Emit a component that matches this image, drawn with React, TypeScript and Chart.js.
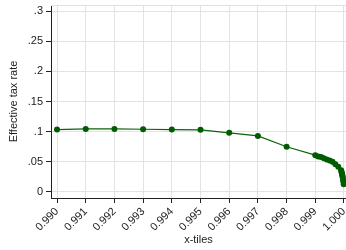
import React, { useEffect, useRef } from "react";
import { Chart, registerables } from "chart.js";

Chart.register(...registerables);

const xValues = [
  0.990, 0.991, 0.992, 0.993, 0.994, 0.995, 0.996, 0.997, 0.998,
  0.9990, 0.9991, 0.9992, 0.9993, 0.9994, 0.9995, 0.9996, 0.9997, 0.9998, 0.9999,
  0.99991, 0.99992, 0.99993, 0.99994, 0.99995, 0.99996, 0.99997, 0.99998, 0.99999,
];
const taxRates = [
  0.1035, 0.1045, 0.1045, 0.104, 0.1035, 0.103, 0.098, 0.093, 0.075,
  0.061, 0.059, 0.058, 0.056, 0.054, 0.052, 0.05, 0.046, 0.042, 0.036,
  0.034, 0.032, 0.03, 0.028, 0.026, 0.023, 0.02, 0.017, 0.013,
];
const xTickValues = [0.990, 0.991, 0.992, 0.993, 0.994, 0.995, 0.996, 0.997, 0.998, 0.999, 1.000];
const xTickLabels = ["0.990", "0.991", "0.992", "0.993", "0.994", "0.995", "0.996", "0.997", "0.998", "0.999", "1.000"];
const yTickValues = [0, 0.05, 0.1, 0.15, 0.2, 0.25, 0.3];
const yTickLabels = ["0", ".05", ".1", ".15", ".2", ".25", ".3"];

const FONT = "'Liberation Sans', Arial, sans-serif";

export default function App() {
  const ref = useRef<HTMLCanvasElement | null>(null);

  useEffect(() => {
    if (!ref.current) return;
    const topBorder = {
      id: "topBorder",
      afterDraw(chart: any) {
        const { ctx, chartArea } = chart;
        ctx.save();
        ctx.strokeStyle = "#d9e3ea";
        ctx.lineWidth = 1;
        ctx.beginPath();
        ctx.moveTo(chartArea.left, chartArea.top + 0.5);
        ctx.lineTo(chartArea.right, chartArea.top + 0.5);
        ctx.stroke();
        ctx.restore();
      },
    };
    const chart = new Chart(ref.current, {
      type: "line",
      data: {
        datasets: [
          {
            data: xValues.map((x, i) => ({ x, y: taxRates[i] })),
            borderColor: "#0a650a",
            backgroundColor: "#005c00",
            borderWidth: 1.2,
            pointRadius: 3,
            pointBorderWidth: 0,
            pointBackgroundColor: "#005c00",
            tension: 0,
          },
        ],
      },
      options: {
        animation: false,
        responsive: false,
        maintainAspectRatio: false,
        clip: false as any,
        layout: { padding: { top: 5, right: 0, left: 0, bottom: 0 } },
        plugins: { legend: { display: false }, tooltip: { enabled: false } },
        scales: {
          x: {
            type: "linear",
            min: 0.98979,
            max: 1.00007,
            afterBuildTicks: (s: any) => {
              s.ticks = xTickValues.map((v) => ({ value: v }));
            },
            afterFit: (s: any) => {
              s.height = 52;
              s.paddingLeft = 0;
              s.paddingRight = 0;
            },
            ticks: {
              autoSkip: false,
              minRotation: 45,
              maxRotation: 45,
              padding: 2,
              color: "#222",
              font: { family: FONT, size: 11 },
              callback: (v: any, i: number) => xTickLabels[i],
            },
            grid: {
              color: "#e3e3e3",
              tickColor: "#222",
              tickLength: 5,
              lineWidth: 1,
            },
            border: { color: "#222", width: 1 },
            title: {
              display: true,
              text: "x-tiles",
              color: "#222",
              font: { family: FONT, size: 11 },
              padding: { top: 0, bottom: 3 },
            },
          },
          y: {
            type: "linear",
            min: -0.01,
            max: 0.31,
            afterBuildTicks: (s: any) => {
              s.ticks = yTickValues.map((v) => ({ value: v }));
            },
            afterFit: (s: any) => {
              s.width = 51;
              s.paddingTop = 0;
              s.paddingBottom = 0;
            },
            ticks: {
              autoSkip: false,
              padding: 3,
              color: "#222",
              font: { family: FONT, size: 11 },
              callback: (v: any, i: number) => yTickLabels[i],
            },
            grid: {
              color: "#e3e3e3",
              tickColor: "#222",
              tickLength: 5,
              lineWidth: 1,
            },
            border: { color: "#222", width: 1 },
            title: {
              display: true,
              text: "Effective tax rate",
              color: "#222",
              font: { family: FONT, size: 11 },
              padding: { top: 7, bottom: 0 },
            },
          },
        },
      },
      plugins: [topBorder],
    });
    return () => chart.destroy();
  }, []);

  return (
    <div style={{ position: "absolute", left: 0, top: 0, width: 346, height: 250, overflow: "hidden" }}>
      <canvas ref={ref} width={350} height={250} style={{ width: 350, height: 250, display: "block" }} />
    </div>
  );
}
